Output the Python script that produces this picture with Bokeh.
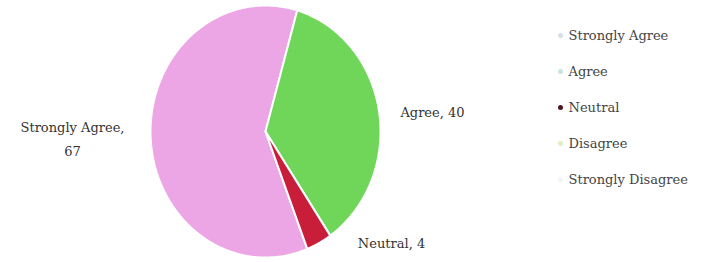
import numpy as np
from bokeh.plotting import figure
from bokeh.models import ColumnDataSource
from bokeh.core.properties import value
from bokeh.embed import file_html
from bokeh.resources import INLINE

categories = ["Strongly Agree", "Agree", "Neutral", "Disagree", "Strongly Disagree"]
counts = [67, 40, 4, 0, 0]
slice_colors = ["#eca6e6", "#6fd65a", "#c81e3a", "#e8efc0", "#f4f0f4"]
legend_colors = ["#d3e0e6", "#c6e6de", "#4a1820", "#e4edc2", "#f3f3f3"]

W, H = 706, 262
p = figure(width=W, height=H, x_range=(0, W), y_range=(0, H),
           output_backend="svg", toolbar_location=None, min_border=0)
p.axis.visible = False
p.grid.visible = False
p.outline_line_color = None
p.background_fill_color = "white"

# pie (slightly elliptical, as in the reference)
cx, cy, a, b = 265, 131, 115, 126
start = np.deg2rad(16) - 2 * np.pi * counts[0] / sum(counts)
xs, ys = [], []
c = start
for v in counts:
    sweep = 2 * np.pi * v / sum(counts)
    t = np.linspace(c, c + sweep, max(2, int(v * 4)))
    xs.append(list(np.r_[cx, cx + a * np.sin(t), cx]))
    ys.append(list(np.r_[cy, cy + b * np.cos(t), cy]))
    c += sweep
src = ColumnDataSource(dict(xs=[x for x, v in zip(xs, counts) if v > 0],
                            ys=[y for y, v in zip(ys, counts) if v > 0],
                            color=[col for col, v in zip(slice_colors, counts) if v > 0]))
p.patches("xs", "ys", source=src, fill_color="color", line_color="white", line_width=2)

# data labels
font = value("DejaVu Serif")
lab_x = [72, 432, 391]
lab_y = [123, 150, 19]
labels = [f"{categories[0]},\n{counts[0]}", f"{categories[1]}, {counts[1]}", f"{categories[2]}, {counts[2]}"]
p.text(x=lab_x, y=lab_y, text=labels, text_font=font, text_font_size="13px",
       text_color="#333333", text_align="center", text_baseline="middle", text_line_height=1.65)

# legend
ly = [227 - i * 36 for i in range(len(categories))]
p.scatter(x=[560] * len(categories), y=ly, size=5, color=legend_colors, line_color=None)
p.text(x=[568] * len(categories), y=ly, text=categories, text_font=font, text_font_size="13px",
       text_color="#444444", text_align="left", text_baseline="middle")

open("out.html", "w").write(file_html(p, INLINE))
